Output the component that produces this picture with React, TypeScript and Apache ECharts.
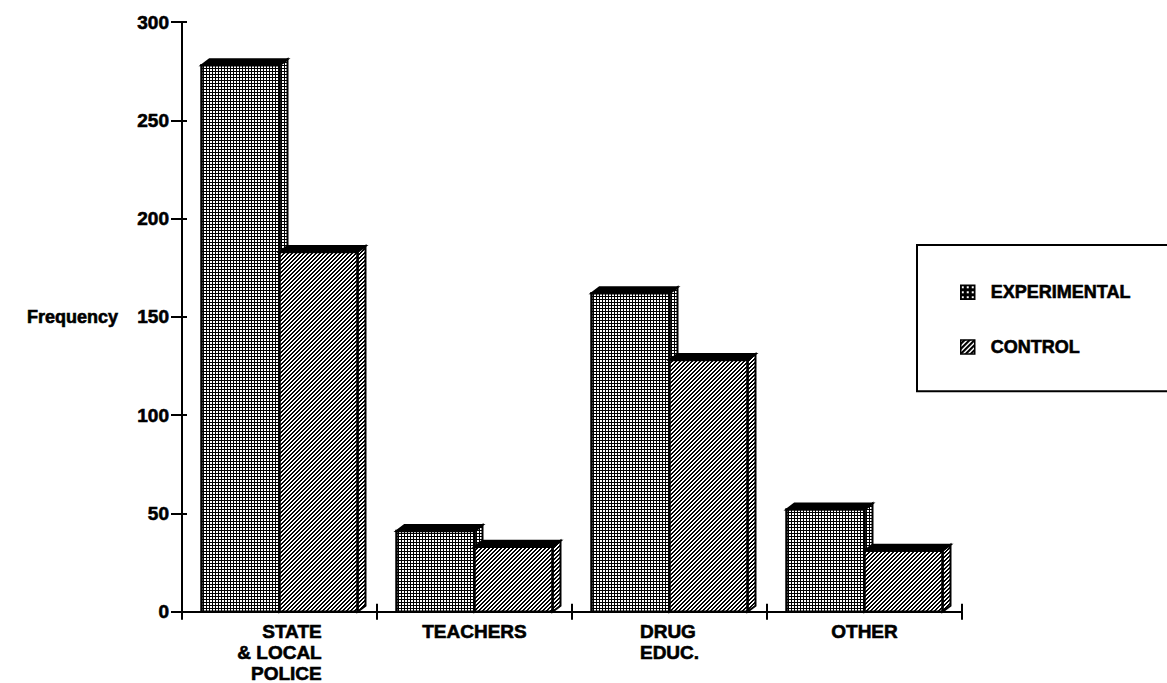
import React, { useEffect, useRef } from "react";
import * as echarts from "echarts";

const categories = ["STATE\n& LOCAL\nPOLICE", "TEACHERS", "DRUG\nEDUC.", "OTHER"];
const experimental = [278, 41, 162, 52];
const control = [183, 33, 128, 31];
const seriesNames = ["EXPERIMENTAL", "CONTROL"];
const yMin = 0;
const yMax = 300;
const yInterval = 50;

const FONT = "'Liberation Sans', Arial, Helvetica, sans-serif";
const HEAVY = { textBorderColor: "#000", textBorderWidth: 0.6 };

function makeTile(size: number, isBlack: (x: number, y: number) => boolean) {
  const c = document.createElement("canvas");
  c.width = size;
  c.height = size;
  const ctx = c.getContext("2d")!;
  ctx.fillStyle = "#fff";
  ctx.fillRect(0, 0, size, size);
  ctx.fillStyle = "#000";
  for (let y = 0; y < size; y++) {
    for (let x = 0; x < size; x++) {
      if (isBlack(x, y)) ctx.fillRect(x, y, 1, 1);
    }
  }
  return { image: c, repeat: "repeat" } as any;
}

export default function App() {
  const ref = useRef<HTMLDivElement>(null);
  useEffect(() => {
    if (!ref.current) return;
    const chart = echarts.init(ref.current, null, { renderer: "svg" });

    const gridPat = makeTile(3, (x, y) => x === 2 || y === 2);
    const hatchPat = makeTile(4, (x, y) => (x + y) % 4 < 2);
    const gridIcon = makeTile(5, (x, y) => !(x >= 1 && x <= 2 && y >= 1 && y <= 2));
    const hatchIcon = makeTile(5, (x, y) => (x + y) % 5 > 1);

    const makeRender = (side: number, pattern: any) => (params: any, api: any) => {
      const ci = api.value(0);
      const v = api.value(1);
      const p = api.coord([ci, v]);
      const b = api.coord([ci, 0]);
      const band = api.size([1, 0])[0];
      const w = band * 0.4;
      const x = side === 0 ? p[0] - w : p[0];
      const top = p[1];
      const base = b[1];
      const dx = 8;
      const dy = 6;
      return {
        type: "group",
        children: [
          {
            type: "polygon",
            shape: { points: [[x + w, top], [x + w + dx, top - dy], [x + w + dx, base - dy], [x + w, base]] },
            style: { fill: pattern, stroke: "#000", lineWidth: 2 },
          },
          {
            type: "polygon",
            shape: { points: [[x, top], [x + dx, top - dy], [x + w + dx, top - dy], [x + w, top]] },
            style: { fill: "#000", stroke: "#000", lineWidth: 2 },
          },
          {
            type: "rect",
            shape: { x, y: top, width: w, height: base - top },
            style: { fill: pattern, stroke: "#000", lineWidth: 2.5 },
          },
        ],
      };
    };

    const labelFmt = (value: string, idx: number) => {
      const lines = value.split("\n");
      if (idx === 0) return lines.map((l) => `{r|${l}}`).join("\n");
      if (idx === 2) return lines.map((l) => `{l|${l}}`).join("\n");
      return lines.map((l) => `{c|${l}}`).join("\n");
    };

    const labelRichBase = { fontSize: 19, fontWeight: "bold", fontFamily: FONT, color: "#000", lineHeight: 21, ...HEAVY };

    chart.setOption({
      animation: false,
      backgroundColor: "#fff",
      grid: { left: 182, right: 205, top: 22, bottom: 70, containLabel: false },
      legend: {
        orient: "vertical",
        left: 917,
        top: 245,
        padding: [38, 40, 35, 43],
        itemWidth: 14,
        itemHeight: 14,
        itemGap: 36,
        borderColor: "#000",
        borderWidth: 2,
        selectedMode: false,
        textStyle: { fontSize: 18, fontWeight: "bold", fontFamily: FONT, color: "#000", lineHeight: 14, padding: [0, 0, 0, 11], ...HEAVY },
        data: [
          { name: seriesNames[0], icon: "rect", itemStyle: { color: gridIcon, borderColor: "#000", borderWidth: 1.5 } },
          { name: seriesNames[1], icon: "rect", itemStyle: { color: hatchIcon, borderColor: "#000", borderWidth: 1.5 } },
        ],
      },
      xAxis: [
        {
          type: "category",
          data: categories,
          boundaryGap: true,
          axisLine: { show: true, lineStyle: { color: "#000", width: 2 } },
          axisTick: { show: true, inside: false, length: 8, lineStyle: { color: "#000", width: 2 } },
          axisLabel: {
            interval: 0,
            margin: 9,
            formatter: labelFmt,
            rich: {
              r: { ...labelRichBase, align: "right" },
              l: { ...labelRichBase, align: "left" },
              c: { ...labelRichBase, align: "center" },
            },
          },
          splitLine: { show: false },
        },
        {
          type: "category",
          data: categories,
          position: "bottom",
          boundaryGap: true,
          axisLine: { show: false },
          axisTick: { show: true, inside: true, length: 8, lineStyle: { color: "#000", width: 2 } },
          axisLabel: { show: false },
          splitLine: { show: false },
        },
      ],
      yAxis: [
        {
          type: "value",
          min: yMin,
          max: yMax,
          interval: yInterval,
          name: "Frequency",
          nameLocation: "middle",
          nameRotate: 0,
          nameGap: 64,
          nameTextStyle: { fontSize: 18, fontWeight: "bold", fontFamily: FONT, color: "#000", ...HEAVY },
          axisLine: { show: true, lineStyle: { color: "#000", width: 2 } },
          axisTick: { show: true, inside: false, length: 11, lineStyle: { color: "#000", width: 2 } },
          axisLabel: { margin: 13, fontSize: 19, fontWeight: "bold", fontFamily: FONT, color: "#000", ...HEAVY },
          splitLine: { show: false },
        },
        {
          type: "value",
          min: yMin,
          max: yMax,
          interval: yInterval,
          position: "left",
          axisLine: { show: false },
          axisTick: { show: true, inside: true, length: 5, lineStyle: { color: "#000", width: 2 } },
          axisLabel: { show: false },
          splitLine: { show: false },
        },
      ],
      series: [
        {
          name: seriesNames[0],
          type: "custom",
          renderItem: makeRender(0, gridPat),
          itemStyle: { color: gridIcon },
          encode: { x: 0, y: 1 },
          data: experimental.map((v, i) => [i, v]),
        },
        {
          name: seriesNames[1],
          type: "custom",
          renderItem: makeRender(1, hatchPat),
          itemStyle: { color: hatchIcon },
          encode: { x: 0, y: 1 },
          data: control.map((v, i) => [i, v]),
        },
      ],
    });
    return () => chart.dispose();
  }, []);
  return (
    <div
      ref={ref}
      style={{ position: "fixed", left: 0, top: 0, width: 1167, height: 683, background: "#fff" }}
    />
  );
}
